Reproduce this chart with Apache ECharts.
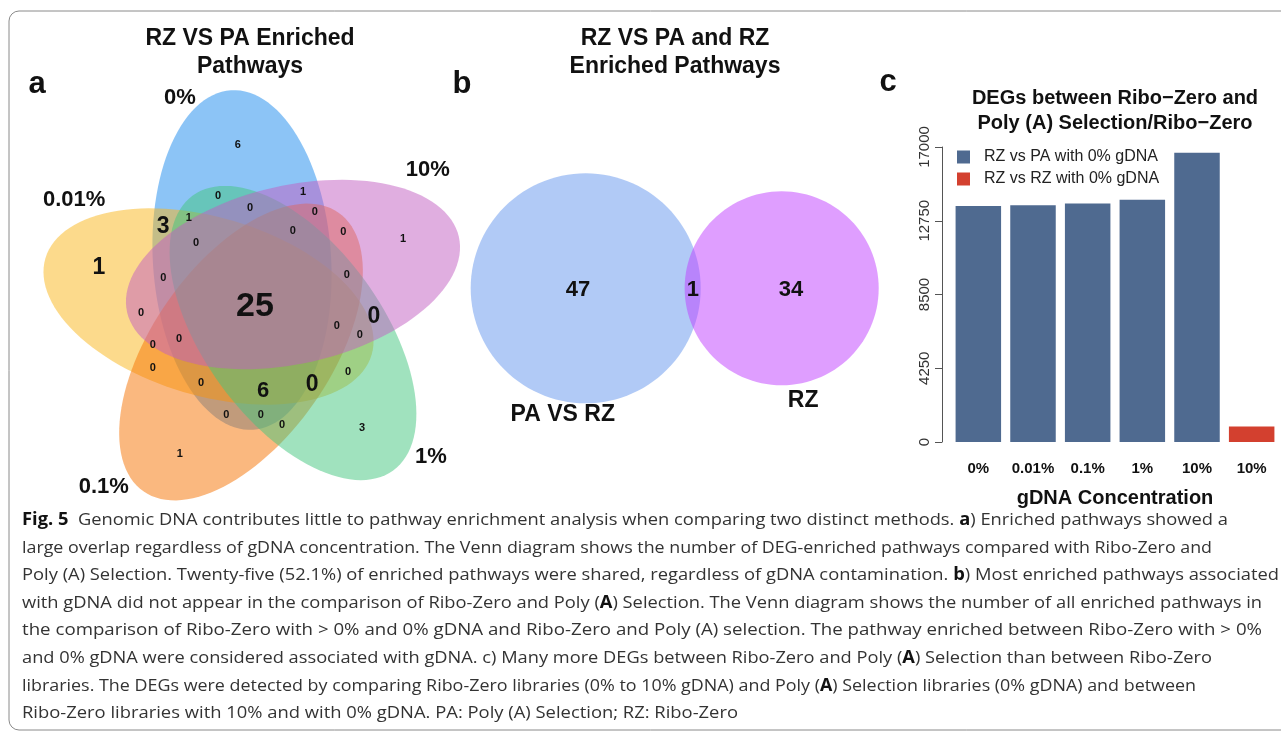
<!DOCTYPE html>
<html><head><meta charset="utf-8">
<script src="https://cdn.jsdelivr.net/npm/echarts@6/dist/echarts.min.js"></script>
<style>html,body{margin:0;padding:0;background:#fff}#c{width:1281px;height:734px}</style>
</head><body><div id="c"></div><script>
// ---------------- DATA ----------------
// Panel a: five-set Venn (set names, region counts)
const vennSets = ['0%', '0.01%', '0.1%', '1%', '10%'];
const vennCounts = [6, 1, 3, 1, 1, 3, 25, 0, 6, 0,
                    0, 1, 0, 1, 0, 0, 0, 0, 0, 0,
                    0, 0, 0, 0, 0, 0, 0, 0, 0, 0, 0];
// Panel b: two-set Venn
const venn2Sets = ['PA VS RZ', 'RZ'];
const venn2Counts = [47, 1, 34];
// Panel c: bar chart
const barCategories = ['0%', '0.01%', '0.1%', '1%', '10%', '10%'];
const rzVsPa = [13600, 13640, 13750, 13960, 16670, null];
const rzVsRz = [null, null, null, null, null, 900];
const yTicks = [0, 4250, 8500, 12750, 17000];
const seriesNames = ['RZ vs PA with 0% gDNA', 'RZ vs RZ with 0% gDNA'];

// ---------------- GEOMETRY / LAYOUT (diagram units, 1 unit = grid/100) ----------------
// ellipses of panel a in drawing order: 0%, 0.01%, 0.1%, 1%, 10%
const vennShapes = [
  {cx: 47.11, cy: 55.56, a: 37.8, b: 19.8, ang: 93.7},
  {cx: 39.67, cy: 45.22, a: 37.8, b: 19.8, ang: -16.5},
  {cx: 46.89, cy: 35.11, a: 37.8, b: 19.8, ang: 55},
  {cx: 58.44, cy: 39.33, a: 37.8, b: 19.8, ang: -53.9},
  {cx: 58.44, cy: 52.33, a: 37.8, b: 19.8, ang: 12.8}
];
const vennFill = ['rgba(25,137,237,0.5)', 'rgba(249,181,25,0.5)', 'rgba(245,113,0,0.5)',
                  'rgba(65,197,125,0.5)', 'rgba(193,93,193,0.5)'];
const vennCountPos = [[46.2,81.1],[82.9,60.2],[73.8,18.2],[33.3,12.4],[15.3,53.8],[29.6,62.9],[50.0,45.1],
  [76.4,42.9],[51.8,26.4],[62.7,27.8],[41.8,69.8],[35.3,64.9],[48.9,67.1],[60.7,70.7],[63.3,66.2],
  [58.4,62.0],[69.6,61.8],[36.9,59.3],[29.6,51.6],[70.4,52.2],[24.7,43.8],[68.2,40.9],[73.3,38.9],
  [27.3,36.7],[33.1,38.0],[27.3,31.6],[70.7,30.7],[38.0,28.2],[43.6,21.1],[51.3,21.1],[56.0,18.9]];
const vennCountSize = [11,11,11,11,23,23,34,23,22,23,11,11,11,11,11,11,11,11,11,11,11,11,11,11,11,11,11,11,11,11,11];
const vennSetPos = [[33.3,91.6],[9.8,68.9],[16.4,5.1],[89.1,11.8],[88.4,75.6]];
const venn2Shapes = [
  {cx: 123.49, cy: 49.27, a: 25.56, b: 25.56, ang: 0},
  {cx: 167.04, cy: 49.27, a: 21.56, b: 21.56, ang: 0}
];
const venn2Fill = ['rgba(100,149,237,0.5)', 'rgba(191,62,255,0.5)'];
const venn2CountPos = [[121.8,48.9],[147.3,48.9],[169.1,48.9]];
const venn2SetPos = [[118.4,21.1],[171.8,24.4]];

const F = '"Liberation Sans", Arial, Helvetica, sans-serif';
const CAPF = '"Open Sans", "Noto Sans", sans-serif';

// ---------------- CAPTION ----------------
const capLines = [
  [['Fig. 5', 1], ['  Genomic DNA contributes little to pathway enrichment analysis when comparing two distinct methods. ', 0], ['a', 1], [') Enriched pathways showed a', 0]],
  [['large overlap regardless of gDNA concentration. The Venn diagram shows the number of DEG-enriched pathways compared with Ribo-Zero and', 0]],
  [['Poly (A) Selection. Twenty-five (52.1%) of enriched pathways were shared, regardless of gDNA contamination. ', 0], ['b', 1], [') Most enriched pathways associated', 0]],
  [['with gDNA did not appear in the comparison of Ribo-Zero and Poly (', 0], ['A', 1], [') Selection. The Venn diagram shows the number of all enriched pathways in', 0]],
  [['the comparison of Ribo-Zero with > 0% and 0% gDNA and Ribo-Zero and Poly (A) selection. The pathway enriched between Ribo-Zero with > 0%', 0]],
  [['and 0% gDNA were considered associated with gDNA. c) Many more DEGs between Ribo-Zero and Poly (', 0], ['A', 1], [') Selection than between Ribo-Zero', 0]],
  [['libraries. The DEGs were detected by comparing Ribo-Zero libraries (0% to 10% gDNA) and Poly (', 0], ['A', 1], [') Selection libraries (0% gDNA) and between', 0]],
  [['Ribo-Zero libraries with 10% and with 0% gDNA. PA: Poly (A) Selection; RZ: Ribo-Zero', 0]]
];
const capRight = [1228, 1212, 1279, 1262, 1262, 1212, 1196, 738];
const capY = [520, 548, 575, 603, 630, 658, 686, 713];
const capLeft = 22, capSize = 17;

const mctx = document.createElement('canvas').getContext('2d');
function segW(s) { mctx.font = (s[1] ? 'bold ' : '') + capSize + 'px ' + CAPF; return mctx.measureText(s[0]).width; }

const graphics = [
  {type: 'rect', shape: {x: 9, y: 11, width: 1300, height: 719, r: 10}, style: {fill: 'none', stroke: '#8a8a8a', lineWidth: 1}, silent: true},
  {type: 'text', x: 37, y: 84, style: {text: 'a', font: 'bold 31px ' + F, fill: '#111', align: 'center', verticalAlign: 'middle', textAlign: 'center', textVerticalAlign: 'middle'}},
  {type: 'text', x: 462, y: 84, style: {text: 'b', font: 'bold 31px ' + F, fill: '#111', align: 'center', verticalAlign: 'middle', textAlign: 'center', textVerticalAlign: 'middle'}},
  {type: 'text', x: 888, y: 82, style: {text: 'c', font: 'bold 31px ' + F, fill: '#111', align: 'center', verticalAlign: 'middle', textAlign: 'center', textVerticalAlign: 'middle'}}
];
capLines.forEach((segs, i) => {
  const w = segs.reduce((acc, s) => acc + segW(s), 0);
  const sx = (capRight[i] - capLeft) / w;
  const txt = segs.map(s => '{' + (s[1] ? 'b' : 'n') + '|' + s[0] + '}').join('');
  graphics.push({
    type: 'text', x: capLeft, y: capY[i], scaleX: sx, silent: true,
    style: {
      text: txt, fill: '#333', verticalAlign: 'middle', textVerticalAlign: 'middle', align: 'left', textAlign: 'left',
      fontSize: capSize, fontFamily: CAPF,
      rich: {
        n: {fontSize: capSize, fontFamily: CAPF, fontWeight: 'normal', fill: '#333', color: '#333'},
        b: {fontSize: capSize, fontFamily: CAPF, fontWeight: 'bold', fill: '#111', color: '#111'}
      }
    }
  });
});

function ellipsePoints(e, api) {
  const pts = [], phi = e.ang * Math.PI / 180, N = 120;
  for (let k = 0; k < N; k++) {
    const t = 2 * Math.PI * k / N;
    const x = e.cx + e.a * Math.cos(t) * Math.cos(phi) - e.b * Math.sin(t) * Math.sin(phi);
    const y = e.cy + e.a * Math.cos(t) * Math.sin(phi) + e.b * Math.sin(t) * Math.cos(phi);
    pts.push(api.coord([x, y]));
  }
  return pts;
}
function textEl(p, text, size) {
  return {type: 'text', x: p[0], y: p[1], style: {text: String(text), font: 'bold ' + size + 'px ' + F, fill: '#111',
    align: 'center', verticalAlign: 'middle', textAlign: 'center', textVerticalAlign: 'middle'}};
}

const option = {
  animation: false,
  backgroundColor: '#fff',
  title: [
    {text: 'RZ VS PA Enriched\nPathways', left: 250, top: 25, padding: 0, textAlign: 'center',
     textStyle: {fontFamily: F, fontSize: 23, fontWeight: 'bold', lineHeight: 28, color: '#111'}},
    {text: 'RZ VS PA and RZ\nEnriched Pathways', left: 675, top: 25, padding: 0, textAlign: 'center',
     textStyle: {fontFamily: F, fontSize: 23, fontWeight: 'bold', lineHeight: 28, color: '#111'}},
    {text: 'DEGs between Ribo\u2212Zero and\nPoly (A) Selection/Ribo\u2212Zero', left: 1115, top: 86, padding: 0, textAlign: 'center',
     textStyle: {fontFamily: F, fontSize: 20, fontWeight: 'bold', lineHeight: 25, color: '#111'}}
  ],
  legend: {
    data: seriesNames, orient: 'vertical', left: 957, top: 149, padding: 0,
    itemWidth: 13, itemHeight: 13, itemGap: 6, icon: 'rect',
    textStyle: {fontFamily: F, fontSize: 16, color: '#222', padding: [0, 0, 0, 9], lineHeight: 14}
  },
  grid: [
    {left: 30, top: 60, width: 900, height: 450},
    {left: 951, top: 147, width: 328, height: 295}
  ],
  xAxis: [
    {gridIndex: 0, type: 'value', min: 0, max: 200, show: false},
    {gridIndex: 1, type: 'category', data: barCategories,
     axisLine: {show: false}, axisTick: {show: false},
     axisLabel: {interval: 0, fontFamily: F, fontSize: 15, fontWeight: 'bold', color: '#111', margin: 19},
     name: 'gDNA Concentration', nameLocation: 'middle', nameGap: 46,
     nameTextStyle: {fontFamily: F, fontSize: 20, fontWeight: 'bold', color: '#111'}}
  ],
  yAxis: [
    {gridIndex: 0, type: 'value', min: 0, max: 100, show: false},
    {gridIndex: 1, type: 'value', min: yTicks[0], max: yTicks[yTicks.length - 1], interval: yTicks[1] - yTicks[0],
     offset: 9, splitLine: {show: false},
     axisLine: {show: true, lineStyle: {color: '#555', width: 1}},
     axisTick: {show: true, length: 7, lineStyle: {color: '#555'}},
     axisLabel: {rotate: 90, fontFamily: F, fontSize: 15, color: '#333', margin: 10, formatter: v => String(v)}}
  ],
  series: [
    {type: 'custom', xAxisIndex: 0, yAxisIndex: 0, silent: true, clip: false,
     data: vennShapes.map(e => [e.cx, e.cy]), encode: {x: 0, y: 1},
     renderItem: (params, api) => ({type: 'polygon', shape: {points: ellipsePoints(vennShapes[params.dataIndex], api)},
       style: {fill: vennFill[params.dataIndex], stroke: null}})},
    {type: 'custom', xAxisIndex: 0, yAxisIndex: 0, silent: true, clip: false,
     data: venn2Shapes.map(e => [e.cx, e.cy]), encode: {x: 0, y: 1},
     renderItem: (params, api) => ({type: 'polygon', shape: {points: ellipsePoints(venn2Shapes[params.dataIndex], api)},
       style: {fill: venn2Fill[params.dataIndex], stroke: null}})},
    {type: 'custom', xAxisIndex: 0, yAxisIndex: 0, silent: true, clip: false,
     data: vennCountPos.map(p => [p[0], p[1]]), encode: {x: 0, y: 1},
     renderItem: (params, api) => textEl(api.coord(vennCountPos[params.dataIndex]), vennCounts[params.dataIndex], vennCountSize[params.dataIndex])},
    {type: 'custom', xAxisIndex: 0, yAxisIndex: 0, silent: true, clip: false,
     data: vennSetPos.map(p => [p[0], p[1]]), encode: {x: 0, y: 1},
     renderItem: (params, api) => textEl(api.coord(vennSetPos[params.dataIndex]), vennSets[params.dataIndex], 22)},
    {type: 'custom', xAxisIndex: 0, yAxisIndex: 0, silent: true, clip: false,
     data: venn2CountPos.map(p => [p[0], p[1]]), encode: {x: 0, y: 1},
     renderItem: (params, api) => textEl(api.coord(venn2CountPos[params.dataIndex]), venn2Counts[params.dataIndex], 22)},
    {type: 'custom', xAxisIndex: 0, yAxisIndex: 0, silent: true, clip: false,
     data: venn2SetPos.map(p => [p[0], p[1]]), encode: {x: 0, y: 1},
     renderItem: (params, api) => textEl(api.coord(venn2SetPos[params.dataIndex]), venn2Sets[params.dataIndex], 23)},
    {name: seriesNames[0], type: 'bar', xAxisIndex: 1, yAxisIndex: 1, data: rzVsPa, barWidth: 45.5, barGap: '-100%',
     itemStyle: {color: '#4F6A90'}},
    {name: seriesNames[1], type: 'bar', xAxisIndex: 1, yAxisIndex: 1, data: rzVsRz, barWidth: 45.5, barGap: '-100%',
     itemStyle: {color: '#D3402F'}}
  ],
  graphic: graphics
};
const chart = echarts.init(document.getElementById('c'), null, {renderer: 'canvas'});
chart.setOption(option);
</script></body></html>
